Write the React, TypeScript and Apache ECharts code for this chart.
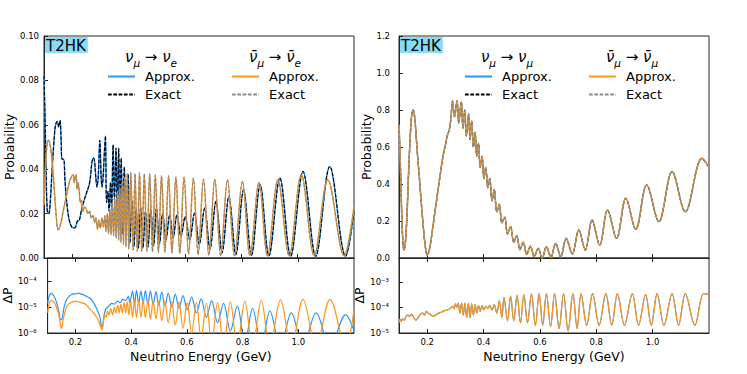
import React, { useEffect, useRef } from "react";
import * as echarts from "echarts";

// ---------- data ----------
const xTickValues = [0.2, 0.4, 0.6, 0.8, 1.0];
const logTicksE = [1e-6, 1e-5, 1e-4];
const logTicksMu = [1e-5, 1e-4, 1e-3];

// nu_mu -> nu_e  (energy GeV, probability)
const probNuE: [number, number][] = [
  [0.100, 0.082], [0.104, 0.062], [0.108, 0.035], [0.112, 0.021], [0.117, 0.020], [0.122, 0.025],
  [0.128, 0.038], [0.135, 0.052], [0.141, 0.060], [0.147, 0.0615], [0.152, 0.059], [0.157, 0.062],
  [0.161, 0.052], [0.164, 0.0445], [0.170, 0.0445], [0.174, 0.036], [0.180, 0.026], [0.188, 0.018],
  [0.196, 0.0145], [0.205, 0.0135], [0.212, 0.014], [0.218, 0.0165], [0.225, 0.017], [0.232, 0.021],
  [0.240, 0.025], [0.250, 0.029], [0.262, 0.034], [0.270, 0.043], [0.275, 0.045], [0.279, 0.044],
  [0.284, 0.036], [0.288, 0.032], [0.293, 0.038], [0.298, 0.053], [0.303, 0.036], [0.306, 0.032],
  [0.310, 0.037], [0.314, 0.047], [0.318, 0.055], [0.322, 0.025], [0.327, 0.030], [0.331, 0.021],
  [0.336, 0.034], [0.340, 0.022], [0.345, 0.051], [0.350, 0.026], [0.3555, 0.0495], [0.360, 0.020],
  [0.365, 0.0495], [0.369, 0.0187], [0.374, 0.045], [0.379, 0.011], [0.385, 0.041], [0.391, 0.0097],
  [0.398, 0.038], [0.405, 0.0067], [0.412, 0.026], [0.419, 0.005], [0.427, 0.022], [0.435, 0.0045],
  [0.443, 0.023], [0.451, 0.0045], [0.460, 0.021], [0.469, 0.005], [0.479, 0.022], [0.489, 0.0055],
  [0.499, 0.0225], [0.510, 0.0065], [0.521, 0.020], [0.533, 0.0082], [0.546, 0.0195], [0.558, 0.009],
  [0.572, 0.0195], [0.586, 0.0097], [0.601, 0.0187], [0.617, 0.0082], [0.634, 0.0202], [0.651, 0.006],
  [0.670, 0.0225], [0.689, 0.004], [0.710, 0.0255], [0.732, 0.0025], [0.756, 0.0277], [0.781, 0.0015],
  [0.808, 0.0307], [0.836, 0.0012], [0.867, 0.033], [0.898, 0.001], [0.937, 0.036], [0.975, 0.0008],
  [1.019, 0.039], [1.064, 0.0008], [1.114, 0.0412], [1.170, 0.0008], [1.200, 0.021]
];

// anti-nu_mu -> anti-nu_e
const probNuBarE: [number, number][] = [
  [0.100, 0.024], [0.105, 0.040], [0.110, 0.050], [0.115, 0.053], [0.120, 0.052], [0.126, 0.047],
  [0.132, 0.039], [0.138, 0.028], [0.144, 0.018], [0.150, 0.0127], [0.156, 0.014], [0.162, 0.017],
  [0.168, 0.021], [0.176, 0.026], [0.186, 0.032], [0.195, 0.036], [0.2035, 0.0375], [0.207, 0.034],
  [0.210, 0.036], [0.214, 0.0375], [0.217, 0.031], [0.221, 0.034], [0.225, 0.030], [0.229, 0.025],
  [0.233, 0.026], [0.238, 0.021], [0.244, 0.023], [0.250, 0.022], [0.256, 0.020], [0.262, 0.021],
  [0.268, 0.018], [0.274, 0.019], [0.280, 0.016], [0.284, 0.018], [0.290, 0.013], [0.295, 0.017],
  [0.300, 0.0135], [0.306, 0.018], [0.311, 0.014], [0.316, 0.019], [0.320, 0.012], [0.325, 0.020],
  [0.329, 0.011], [0.334, 0.022], [0.338, 0.0105], [0.342, 0.025], [0.347, 0.010], [0.351, 0.027],
  [0.356, 0.009], [0.361, 0.030], [0.365, 0.008], [0.369, 0.032], [0.373, 0.007], [0.378, 0.035],
  [0.382, 0.006], [0.386, 0.036], [0.391, 0.005], [0.395, 0.038], [0.401, 0.004], [0.408, 0.0385],
  [0.416, 0.0035], [0.423, 0.038], [0.431, 0.003], [0.439, 0.0385], [0.447, 0.003], [0.456, 0.038],
  [0.465, 0.003], [0.475, 0.038], [0.485, 0.0028], [0.495, 0.0375], [0.506, 0.0025], [0.517, 0.037],
  [0.529, 0.0025], [0.542, 0.037], [0.554, 0.0022], [0.568, 0.0365], [0.582, 0.002], [0.597, 0.0365],
  [0.613, 0.0018], [0.630, 0.036], [0.647, 0.0015], [0.666, 0.0355], [0.685, 0.0012], [0.706, 0.0355],
  [0.727, 0.001], [0.751, 0.0352], [0.776, 0.001], [0.804, 0.0345], [0.831, 0.001], [0.863, 0.034],
  [0.893, 0.001], [0.930, 0.0352], [0.970, 0.001], [1.013, 0.0375], [1.059, 0.001], [1.107, 0.0352],
  [1.165, 0.001], [1.200, 0.023]
];

// nu_mu -> nu_mu (the antineutrino curve lies on top of it)
const probNuMu: [number, number][] = [
  [0.100, 0.72], [0.104, 0.55], [0.108, 0.33], [0.112, 0.14], [0.1175, 0.043], [0.122, 0.07],
  [0.128, 0.22], [0.134, 0.46], [0.140, 0.66], [0.145, 0.77], [0.150, 0.80], [0.155, 0.77],
  [0.160, 0.68], [0.166, 0.55], [0.172, 0.44], [0.178, 0.32], [0.185, 0.19], [0.192, 0.08],
  [0.200, 0.016], [0.207, 0.04], [0.214, 0.10], [0.2235, 0.205], [0.235, 0.33], [0.247, 0.458],
  [0.256, 0.55], [0.2645, 0.61], [0.271, 0.66], [0.278, 0.69], [0.284, 0.75], [0.290, 0.85],
  [0.297, 0.764], [0.306, 0.85], [0.312, 0.728], [0.321, 0.845], [0.327, 0.70], [0.333, 0.80],
  [0.339, 0.66], [0.347, 0.78], [0.352, 0.64], [0.358, 0.74], [0.364, 0.60], [0.370, 0.68],
  [0.376, 0.55], [0.382, 0.62], [0.388, 0.49], [0.395, 0.55], [0.401, 0.43], [0.408, 0.49],
  [0.415, 0.38], [0.422, 0.43], [0.430, 0.31], [0.438, 0.37], [0.447, 0.25], [0.456, 0.29],
  [0.465, 0.19], [0.475, 0.22], [0.485, 0.13], [0.496, 0.17], [0.507, 0.085], [0.518, 0.12],
  [0.529, 0.045], [0.541, 0.085], [0.553, 0.02], [0.566, 0.063], [0.580, 0.008], [0.594, 0.052],
  [0.608, 0.0], [0.623, 0.061], [0.639, 0.004], [0.656, 0.079], [0.674, 0.006], [0.693, 0.106],
  [0.715, 0.022], [0.738, 0.151], [0.761, 0.043], [0.785, 0.205], [0.812, 0.07], [0.840, 0.259],
  [0.872, 0.106], [0.905, 0.323], [0.940, 0.155], [0.979, 0.395], [1.022, 0.196], [1.069, 0.467],
  [1.116, 0.25], [1.175, 0.539], [1.200, 0.49]
];
const probNuBarMu: [number, number][] = probNuMu;

// |Approx - Exact|, appearance
const dpNuE: [number, number][] = [
  [0.100, 1.4e-5], [0.105, 2.6e-5], [0.112, 3.4e-5], [0.120, 3.0e-5], [0.130, 1.8e-5], [0.140, 7e-6],
  [0.147, 3.2e-6], [0.152, 3.5e-6], [0.160, 1.1e-5], [0.170, 2.1e-5], [0.180, 2.8e-5], [0.190, 3.2e-5],
  [0.200, 3.3e-5], [0.210, 3.5e-5], [0.220, 3.2e-5], [0.230, 3.0e-5], [0.240, 2.6e-5], [0.250, 2.3e-5],
  [0.260, 1.8e-5], [0.270, 1.2e-5], [0.280, 7e-6], [0.288, 4e-6], [0.294, 1.8e-6], [0.298, 2e-6],
  [0.303, 5e-6], [0.310, 9e-6], [0.320, 1.1e-5], [0.330, 1.4e-5], [0.340, 1.3e-5], [0.350, 1.7e-5],
  [0.360, 1.5e-5], [0.370, 2e-5], [0.380, 1.8e-5], [0.390, 2.6e-5], [0.395, 1.5e-5], [0.405, 4.2e-5],
  [0.412, 1.3e-5], [0.419, 4.5e-5], [0.427, 1.4e-5], [0.435, 4.3e-5], [0.443, 1.4e-5], [0.451, 4.4e-5],
  [0.460, 1.3e-5], [0.469, 4.2e-5], [0.479, 1.3e-5], [0.489, 4e-5], [0.499, 1.2e-5], [0.510, 3.8e-5],
  [0.521, 1.1e-5], [0.533, 3.5e-5], [0.546, 1e-5], [0.558, 3.2e-5], [0.572, 9e-6], [0.586, 2.8e-5],
  [0.601, 8e-6], [0.617, 2.5e-5], [0.634, 6e-6], [0.651, 2.1e-5], [0.670, 4e-6], [0.689, 1.8e-5],
  [0.710, 2.5e-6], [0.732, 1.4e-5], [0.756, 1.2e-6], [0.781, 1.1e-5], [0.808, 4e-7], [0.836, 9e-6],
  [0.867, 3e-7], [0.898, 7e-6], [0.936, 3e-7], [0.975, 6e-6], [1.017, 3e-7], [1.064, 6e-6],
  [1.114, 3e-7], [1.170, 5e-6], [1.200, 1.2e-6]
];
const dpNuBarE: [number, number][] = [
  [0.100, 6e-6], [0.105, 1.3e-5], [0.112, 1.8e-5], [0.120, 1.7e-5], [0.130, 1.1e-5], [0.140, 5e-6],
  [0.147, 1.8e-6], [0.150, 1.5e-6], [0.155, 3e-6], [0.165, 8e-6], [0.175, 1.3e-5], [0.190, 1.6e-5],
  [0.200, 1.7e-5], [0.210, 1.6e-5], [0.220, 1.5e-5], [0.230, 1.4e-5], [0.240, 1.2e-5], [0.250, 9e-6],
  [0.260, 7e-6], [0.270, 5e-6], [0.280, 3.5e-6], [0.290, 1.8e-6], [0.295, 1.3e-6], [0.300, 2.5e-6],
  [0.305, 5e-6], [0.310, 4e-6], [0.315, 7e-6], [0.320, 5e-6], [0.327, 9e-6], [0.333, 5e-6],
  [0.340, 1e-5], [0.345, 6e-6], [0.352, 1.2e-5], [0.357, 6e-6], [0.363, 1.3e-5], [0.368, 6e-6],
  [0.375, 1.5e-5], [0.380, 6e-6], [0.386, 1.6e-5], [0.392, 5e-6], [0.398, 1.8e-5], [0.405, 4e-6],
  [0.412, 1.9e-5], [0.419, 4e-6], [0.427, 1.8e-5], [0.435, 4e-6], [0.443, 1.9e-5], [0.451, 4e-6],
  [0.460, 1.8e-5], [0.469, 3.5e-6], [0.479, 1.8e-5], [0.489, 3.5e-6], [0.499, 1.7e-5], [0.510, 3e-6],
  [0.521, 1.7e-5], [0.533, 2.5e-6], [0.546, 1.6e-5], [0.558, 2e-6], [0.572, 1.6e-5], [0.586, 1.5e-6],
  [0.601, 1.5e-5], [0.617, 1e-6], [0.634, 1.5e-5], [0.651, 6e-7], [0.670, 1.4e-5], [0.689, 4e-7],
  [0.710, 1.5e-5], [0.732, 3e-7], [0.756, 1.6e-5], [0.781, 3e-7], [0.808, 1.7e-5], [0.836, 3e-7],
  [0.867, 1.8e-5], [0.898, 3e-7], [0.936, 1.9e-5], [0.975, 3e-7], [1.017, 2e-5], [1.064, 3e-7],
  [1.114, 2e-5], [1.170, 3e-7], [1.200, 8e-6]
];

// |Approx - Exact|, disappearance
const dpNuMu: [number, number][] = [
  [0.100, 2.5e-5], [0.104, 3.5e-5], [0.108, 2.8e-5], [0.112, 3.6e-5], [0.118, 3.2e-5], [0.125, 4.5e-5],
  [0.132, 5e-5], [0.138, 4.5e-5], [0.145, 5.5e-5], [0.152, 4e-5], [0.160, 3.2e-5], [0.168, 4e-5],
  [0.176, 5.5e-5], [0.185, 6e-5], [0.190, 5e-5], [0.197, 7e-5], [0.203, 6e-5], [0.210, 5.5e-5],
  [0.220, 4.5e-5], [0.230, 5e-5], [0.240, 6e-5], [0.250, 6.5e-5], [0.260, 7.5e-5], [0.270, 8e-5],
  [0.280, 9e-5], [0.290, 1.1e-4], [0.295, 9e-5], [0.300, 1.4e-4], [0.305, 1e-4], [0.310, 1.5e-4],
  [0.316, 6e-5], [0.322, 1.5e-4], [0.328, 5e-5], [0.334, 1.5e-4], [0.340, 4e-5], [0.346, 1.5e-4],
  [0.352, 4e-5], [0.358, 1.4e-4], [0.364, 5e-5], [0.370, 1.3e-4], [0.376, 6e-5], [0.382, 1.2e-4],
  [0.388, 7e-5], [0.395, 1.2e-4], [0.401, 8e-5], [0.408, 1.1e-4], [0.415, 9e-5], [0.422, 1.2e-4],
  [0.430, 8e-5], [0.438, 1.3e-4], [0.447, 6e-5], [0.456, 1.8e-4], [0.465, 4e-5], [0.4725, 2.5e-4],
  [0.485, 3e-5], [0.496, 2.8e-4], [0.507, 3e-5], [0.519, 3e-4], [0.531, 2.5e-5], [0.543, 3.2e-4],
  [0.556, 2.5e-5], [0.570, 3.4e-4], [0.584, 2e-5], [0.597, 3.5e-4], [0.610, 2e-5], [0.623, 3.5e-4],
  [0.638, 1.8e-5], [0.652, 3.5e-4], [0.668, 1.5e-5], [0.684, 3.5e-4], [0.700, 1.2e-5], [0.717, 3.5e-4],
  [0.732, 1.5e-5], [0.746, 3.5e-4], [0.766, 2e-5], [0.787, 3.5e-4], [0.81, 2e-5], [0.834, 3.5e-4],
  [0.855, 2e-5], [0.875, 3.5e-4], [0.90, 2e-5], [0.928, 3.5e-4], [0.95, 2e-5], [0.975, 3.2e-4],
  [0.995, 2e-5], [1.016, 3.5e-4], [1.04, 2e-5], [1.069, 3.5e-4], [1.092, 2e-5], [1.116, 3.5e-4],
  [1.15, 2e-5], [1.181, 3.5e-4], [1.200, 3.3e-4]
];
const dpNuBarMu: [number, number][] = dpNuMu;

// ---------- styling ----------
const BLUE = "#2b95f5";
const ORANGE = "#ff9416";
const GREY = "#8a8a8a";
const AXIS = "#262626";
const FONT = "DejaVu Sans";

const sup: Record<string, string> = { "-": "⁻", "0": "⁰", "1": "¹", "2": "²", "3": "³", "4": "⁴", "5": "⁵", "6": "⁶", "7": "⁷", "8": "⁸", "9": "⁹" };
const powLabel = (v: number) => {
  const e = Math.round(Math.log10(v));
  if (Math.abs(Math.log10(v) - e) > 1e-6) return "";
  return "10" + String(e).split("").map((c) => sup[c] || c).join("");
};

export default function App() {
  const ref = useRef<HTMLDivElement>(null);
  useEffect(() => {
    if (!ref.current) return;
    const chart = echarts.init(ref.current, undefined, { renderer: "svg" });
    const grids = [
      { left: 44, top: 36, width: 310, height: 222 },
      { left: 44, top: 258, width: 310, height: 75 },
      { left: 399, top: 36, width: 310, height: 222 },
      { left: 399, top: 258, width: 310, height: 75 },
    ].map((g) => ({ ...g, show: true, borderColor: AXIS, borderWidth: 1, backgroundColor: "transparent" }));

    const tick = { show: true, inside: true, length: 4, lineStyle: { color: AXIS, width: 1 } };
    const xBase = (grid: number, labels: boolean, position: "bottom" | "top" = "bottom") => ({
      type: "value",
      gridIndex: grid,
      position,
      min: 0.1,
      max: 1.2,
      axisLine: { show: true, onZero: false, lineStyle: { color: AXIS, width: 1 } },
      axisTick: { ...tick, customValues: xTickValues },
      axisLabel: labels
        ? { show: true, customValues: xTickValues, formatter: (v: number) => v.toFixed(1), fontSize: 8.5, fontFamily: FONT, color: "#000", margin: 4 }
        : { show: false },
      splitLine: { show: false },
      name: labels ? "Neutrino Energy (GeV)" : "",
      nameLocation: "middle",
      nameGap: 17,
      nameTextStyle: { fontSize: 12.5, fontFamily: FONT, color: "#000" },
    });

    const xAxis = [
      xBase(0, false),
      xBase(1, true),
      xBase(2, false),
      xBase(3, true),
      xBase(1, false, "top"),
      xBase(3, false, "top"),
    ];

    const yName = (name: string, gap: number) => ({
      name,
      nameLocation: "middle",
      nameGap: gap,
      nameRotate: 90,
      nameTextStyle: { fontSize: 12.5, fontFamily: FONT, color: "#000" },
    });
    const labelStyle = { fontSize: 8.5, fontFamily: FONT, color: "#000" };

    const yAxis = [
      {
        type: "value", gridIndex: 0, min: 0, max: 0.1, interval: 0.02,
        axisLine: { show: true, lineStyle: { color: AXIS } }, axisTick: tick, splitLine: { show: false },
        axisLabel: { ...labelStyle, margin: 5, formatter: (v: number) => v.toFixed(2) },
        ...yName("Probability", 27),
      },
      {
        type: "log", logBase: 10, gridIndex: 1, min: 1e-6, max: 8e-4,
        axisLine: { show: true, lineStyle: { color: AXIS } },
        axisTick: { ...tick, customValues: logTicksE }, splitLine: { show: false },
        axisLabel: { ...labelStyle, margin: 11, customValues: logTicksE, formatter: powLabel },
        ...yName("ΔP", 27),
      },
      {
        type: "value", gridIndex: 2, min: 0, max: 1.2, interval: 0.2,
        axisLine: { show: true, lineStyle: { color: AXIS } }, axisTick: tick, splitLine: { show: false },
        axisLabel: { ...labelStyle, margin: 9, formatter: (v: number) => v.toFixed(1) },
        ...yName("Probability", 23),
      },
      {
        type: "log", logBase: 10, gridIndex: 3, min: 1e-5, max: 8.7e-3,
        axisLine: { show: true, lineStyle: { color: AXIS } },
        axisTick: { ...tick, customValues: logTicksMu }, splitLine: { show: false },
        axisLabel: { ...labelStyle, margin: 10, customValues: logTicksMu, formatter: powLabel },
        ...yName("ΔP", 27),
      },
    ];

    const line = (name: string, data: [number, number][], grid: number, color: string, dashed: boolean, width: number) => ({
      type: "line",
      name,
      data,
      xAxisIndex: grid,
      yAxisIndex: grid,
      symbol: "none",
      smooth: 0.35,
      clip: true,
      lineStyle: { color, width, type: dashed ? [3.7, 1.6] : "solid" },
      itemStyle: { color },
      z: 2,
    });

    const series = [
      line("Approx. a", probNuE, 0, BLUE, false, 1.5),
      line("Exact a", probNuE, 0, "#000", true, 1.1),
      line("Approx. b", probNuBarE, 0, ORANGE, false, 1.5),
      line("Exact b", probNuBarE, 0, GREY, true, 1.1),
      line("dA", dpNuE, 1, BLUE, false, 1.2),
      line("dB", dpNuBarE, 1, ORANGE, false, 1.2),
      line("Approx. c", probNuMu, 2, BLUE, false, 1.5),
      line("Exact c", probNuMu, 2, "#000", true, 1.1),
      line("Approx. d", probNuBarMu, 2, ORANGE, false, 1.5),
      line("Exact d", probNuBarMu, 2, GREY, true, 1.1),
      line("dC", dpNuMu, 3, BLUE, false, 1.2),
      line("dD", dpNuBarMu, 3, ORANGE, false, 1.2),
    ];

    const legend = (names: string[], left: number) => ({
      data: names,
      orient: "vertical",
      left,
      top: 70,
      padding: 0,
      itemWidth: 27,
      itemHeight: 14,
      itemGap: 5,
      selectedMode: false,
      itemStyle: { opacity: 0 },
      formatter: (n: string) => n.split(" ")[0],
      textStyle: { fontSize: 13, fontFamily: FONT, color: "#000", padding: [0, 0, 0, 5] },
    });

    const rich = {
      n: { fontSize: 15, fontStyle: "italic", fontFamily: FONT, color: "#000", lineHeight: 22, verticalAlign: "middle" },
      s: { fontSize: 10.5, fontStyle: "italic", fontFamily: FONT, color: "#000", lineHeight: 12, verticalAlign: "bottom" },
      a: { fontSize: 15, fontFamily: FONT, color: "#000", lineHeight: 22, verticalAlign: "middle" },
    };
    const title = (x: number, text: string) => ({
      type: "text",
      x,
      y: 57,
      style: { text, rich, align: "center", verticalAlign: "middle" },
    });
    const badge = (x: number) => ({
      type: "text",
      x,
      y: 37,
      style: {
        text: "T2HK", fontSize: 15, fontFamily: FONT, fill: "#000",
        backgroundColor: "#88dbf4", padding: [1, 2, 0, 2],
      },
    });

    chart.setOption({
      animation: false,
      backgroundColor: "#fff",
      grid: grids,
      xAxis,
      yAxis,
      series,
      legend: [
        legend(["Approx. a", "Exact a"], 107),
        legend(["Approx. b", "Exact b"], 231),
        legend(["Approx. c", "Exact c"], 464),
        legend(["Approx. d", "Exact d"], 588),
      ],
      graphic: [
        title(151, "{n|ν}{s|μ}{a| → }{n|ν}{s|e}"),
        title(275, "{n|ν̄}{s|μ}{a| → }{n|ν̄}{s|e}"),
        title(507, "{n|ν}{s|μ}{a| → }{n|ν}{s|μ}"),
        title(632, "{n|ν̄}{s|μ}{a| → }{n|ν̄}{s|μ}"),
        badge(44),
        badge(399),
      ],
    });
    return () => chart.dispose();
  }, []);
  return <div ref={ref} style={{ position: "absolute", left: 0, top: 0, width: 747, height: 374 }} />;
}
